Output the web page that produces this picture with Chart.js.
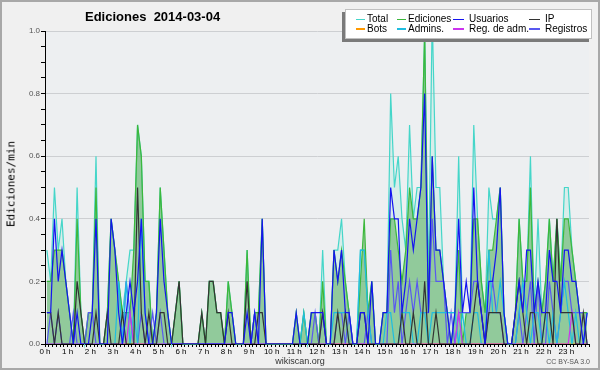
<!DOCTYPE html>
<html>
<head>
<meta charset="utf-8">
<script src="https://cdn.jsdelivr.net/npm/chart.js@4.4.1/dist/chart.umd.min.js"></script>
<style>
  html, body { margin: 0; padding: 0; background: #f0f0f0; }
  #wrap { position: relative; width: 600px; height: 370px; overflow: hidden;
          font-family: "Liberation Sans", Arial, sans-serif; }
  #chart { position: absolute; left: 0; top: 0; }
  #frame { position: absolute; left: 0; top: 0; width: 596px; height: 366px;
           border: 2px solid #a8a8a8; pointer-events: none; }
  #title { position: absolute; left: 85px; top: 9px; font-weight: bold; font-size: 13px;
           line-height: 16px; color: #000; white-space: pre; }
  #ytitle { position: absolute; left: 11px; top: 184px; transform: translate(-50%, -50%) rotate(-90deg);
            font-family: "DejaVu Sans Mono", monospace; font-size: 11px; color: #000; white-space: nowrap; }
  #legend { position: absolute; left: 345px; top: 9px; width: 245px; height: 28px;
            background: #fff; border: 1px solid #c0c0c0; box-shadow: -3px 3px 0 #7a7a7a; }
  .lg-line { position: absolute; height: 1.5px; }
  .lg-text { position: absolute; font-size: 10px; line-height: 10px; color: #000; white-space: nowrap; }
  #footer { position: absolute; left: 0; width: 600px; top: 356px; text-align: center;
            font-size: 9px; line-height: 10px; color: #333; }
  #licence { position: absolute; right: 10px; top: 358px; font-size: 7px; line-height: 8px; color: #555; }
</style>
</head>
<body>
<div id="wrap">
  <canvas id="chart" width="600" height="370"></canvas>
  <div id="title">Ediciones  2014-03-04</div>
  <div id="ytitle">Ediciones/min</div>
  <div id="legend"></div>
  <div id="footer">wikiscan.org</div>
  <div id="licence">CC BY-SA 3.0</div>
  <div id="frame"></div>
</div>
<script>
// edits per minute, one value per 10-minute slot (6 per hour, 0 h .. 23 h)
const total = [
  0.3, 0.2, 0.5, 0.3, 0.4, 0.2,
  0.1, 0,   0.5, 0.1, 0,   0.1,
  0.1, 0.6, 0,   0,   0.1, 0.4,
  0.3, 0.2, 0.1, 0.2, 0.3, 0.3,
  0.7, 0.6, 0.2, 0.2, 0,   0.1,
  0.5, 0.3, 0.1, 0,   0.1, 0.2,
  0,   0,   0,   0,   0,   0.1,
  0,   0.2, 0.2, 0.1, 0.1, 0,
  0.2, 0.1, 0,   0,   0,   0.3,
  0,   0.1, 0.1, 0.4, 0,   0,
  0,   0,   0,   0,   0,   0,
  0.1, 0,   0.1, 0,   0.1, 0.1,
  0,   0.3, 0,   0,   0.3, 0.3,
  0.4, 0.2, 0.1, 0,   0,   0.3,
  0.3, 0.1, 0.2, 0,   0,   0.1,
  0.1, 0.8, 0.5, 0.6, 0.4, 0.3,
  0.7, 0.4, 0.5, 0.5, 1.0, 0.2,
  1.05, 0.5, 0.5, 0.2, 0.1, 0.1,
  0.1, 0.6, 0.1, 0.1, 0.1, 0.7,
  0.4, 0.2, 0.1, 0.5, 0.4, 0.4,
  0.5, 0.1, 0,   0,   0.1, 0.4,
  0.2, 0.2, 0.6, 0.1, 0.4, 0.1,
  0.2, 0.4, 0.2, 0.4, 0.2, 0.5,
  0.5, 0.3, 0.2, 0.1, 0.1, 0.1
];
const ediciones = [
  0.2, 0.2, 0.3, 0.3, 0.3, 0.2,
  0.1, 0,   0.4, 0.1, 0,   0.1,
  0.1, 0.5, 0,   0,   0.1, 0.4,
  0.3, 0.2, 0.1, 0.1, 0.1, 0.3,
  0.7, 0.6, 0.2, 0.2, 0,   0.1,
  0.5, 0.3, 0.1, 0,   0.1, 0.2,
  0,   0,   0,   0,   0,   0.1,
  0,   0.2, 0.2, 0.1, 0.1, 0,
  0.2, 0.1, 0,   0,   0,   0.3,
  0,   0.1, 0.1, 0.4, 0,   0,
  0,   0,   0,   0,   0,   0,
  0.1, 0,   0.1, 0,   0.1, 0.1,
  0,   0.2, 0,   0,   0.3, 0.2,
  0.3, 0.2, 0.1, 0,   0,   0.2,
  0.4, 0.1, 0.2, 0,   0,   0.1,
  0.1, 0.4, 0.4, 0.3, 0.2, 0.3,
  0.5, 0.4, 0.4, 0.5, 1.0, 0.1,
  0.6, 0.3, 0.3, 0.2, 0.1, 0,
  0.1, 0.3, 0,   0.1, 0.1, 0.4,
  0.4, 0.2, 0.1, 0.3, 0.3, 0.4,
  0.5, 0.1, 0,   0,   0.1, 0.4,
  0.2, 0.2, 0.5, 0.1, 0.2, 0.1,
  0.2, 0.4, 0.2, 0.4, 0.2, 0.4,
  0.4, 0.3, 0.2, 0.1, 0.1, 0.1
];
const usuarios = [
  0.1, 0.1, 0.4, 0.2, 0.3, 0.2,
  0.1, 0,   0.1, 0,   0,   0,
  0.1, 0.4, 0,   0,   0,   0.4,
  0.3, 0.1, 0,   0.1, 0.2, 0.1,
  0.2, 0.4, 0.1, 0,   0,   0.1,
  0.4, 0.2, 0.1, 0,   0,   0,
  0,   0,   0,   0,   0,   0,
  0,   0,   0,   0,   0,   0,
  0.1, 0.1, 0,   0,   0,   0.1,
  0,   0.1, 0,   0.4, 0,   0,
  0,   0,   0,   0,   0,   0,
  0.1, 0,   0,   0,   0.1, 0.1,
  0.1, 0.1, 0,   0,   0.3, 0.2,
  0.3, 0.1, 0.1, 0,   0,   0.1,
  0.1, 0,   0.2, 0,   0,   0.1,
  0.1, 0.5, 0.4, 0.4, 0.1, 0.2,
  0.4, 0.3, 0.4, 0.5, 0.8, 0.1,
  0.6, 0.3, 0.3, 0.2, 0.1, 0,
  0.1, 0.4, 0.1, 0.2, 0.1, 0.5,
  0.2, 0.1, 0,   0.2, 0.2, 0.3,
  0.5, 0.1, 0,   0,   0.1, 0.2,
  0.1, 0.3, 0.3, 0.1, 0.2, 0.1,
  0.1, 0.3, 0.2, 0.2, 0.1, 0.3,
  0.3, 0.2, 0.2, 0.1, 0,   0.1
];
const ip = [
  0.1, 0.1, 0,   0.1, 0,   0,
  0,   0,   0.2, 0.1, 0,   0,
  0,   0.1, 0,   0,   0.1, 0,
  0,   0,   0.1, 0,   0,   0,
  0.5, 0.1, 0,   0.1, 0,   0,
  0.1, 0.1, 0,   0,   0.1, 0.2,
  0,   0,   0,   0,   0,   0.1,
  0,   0.2, 0.2, 0.1, 0.1, 0,
  0.1, 0,   0,   0,   0,   0.2,
  0,   0,   0.1, 0.1, 0,   0,
  0,   0,   0,   0,   0,   0,
  0,   0,   0,   0,   0,   0,
  0,   0.1, 0,   0,   0,   0.1,
  0,   0.1, 0,   0,   0,   0.1,
  0.1, 0,   0,   0,   0,   0,
  0,   0,   0,   0,   0.1, 0,
  0,   0.1, 0,   0,   0.2, 0,
  0,   0.1, 0,   0,   0,   0,
  0,   0,   0,   0,   0,   0.1,
  0.2, 0.1, 0,   0.1, 0.1, 0.1,
  0.1, 0,   0,   0,   0.1, 0.2,
  0.1, 0,   0.1, 0.1, 0,   0,
  0.1, 0.1, 0,   0.4, 0.1, 0.1,
  0.1, 0.1, 0,   0,   0.1, 0
];
const bots = [
  0, 0, 0, 0, 0, 0,
  0, 0, 0, 0, 0, 0,
  0, 0, 0, 0, 0, 0,
  0, 0, 0, 0, 0, 0,
  0, 0, 0, 0, 0, 0,
  0, 0, 0, 0, 0, 0,
  0, 0, 0, 0, 0, 0,
  0, 0, 0, 0, 0, 0,
  0, 0, 0, 0, 0, 0,
  0, 0, 0, 0, 0, 0,
  0, 0, 0, 0, 0, 0,
  0, 0, 0, 0, 0, 0,
  0, 0, 0, 0, 0, 0,
  0, 0, 0, 0, 0, 0,
  0, 0, 0, 0, 0, 0,
  0, 0, 0, 0, 0, 0,
  0, 0, 0, 0, 0, 0,
  0, 0, 0, 0, 0, 0,
  0, 0, 0, 0, 0, 0,
  0, 0, 0, 0, 0, 0,
  0, 0, 0, 0, 0, 0,
  0, 0, 0, 0, 0, 0,
  0, 0, 0, 0, 0, 0,
  0, 0, 0, 0, 0, 0
];
const admins = [
  0,   0,   0,   0,   0,   0,
  0,   0,   0,   0,   0,   0,
  0,   0,   0,   0,   0,   0,
  0,   0.2, 0,   0.2, 0,   0.1,
  0,   0.4, 0.1, 0,   0,   0,
  0,   0,   0,   0,   0,   0,
  0,   0,   0,   0,   0,   0,
  0,   0,   0,   0,   0,   0,
  0,   0,   0,   0,   0,   0,
  0,   0,   0,   0,   0,   0,
  0,   0,   0,   0,   0,   0,
  0,   0,   0.1, 0,   0,   0,
  0,   0,   0,   0,   0.1, 0.1,
  0.1, 0.1, 0,   0,   0,   0.3,
  0.3, 0.1, 0,   0,   0,   0,
  0.1, 0.1, 0,   0,   0.1, 0.1,
  0.1, 0,   0,   0.1, 0.1, 0,
  0.1, 0.1, 0.1, 0.1, 0.1, 0.1,
  0.1, 0,   0.1, 0,   0,   0.1,
  0.1, 0,   0,   0.3, 0.1, 0.1,
  0.2, 0.1, 0,   0,   0,   0.1,
  0.2, 0.1, 0,   0.1, 0.1, 0,
  0.1, 0,   0.1, 0,   0.1, 0.2,
  0.1, 0,   0.1, 0,   0,   0.1
];
const regAdm = [
  0, 0, 0, 0, 0, 0,
  0, 0, 0, 0, 0, 0,
  0, 0, 0, 0, 0, 0,
  0, 0, 0, 0, 0.1, 0,
  0, 0, 0, 0, 0, 0,
  0, 0, 0, 0, 0, 0,
  0, 0, 0, 0, 0, 0,
  0, 0, 0, 0, 0, 0,
  0, 0, 0, 0, 0, 0,
  0, 0, 0, 0, 0, 0,
  0, 0, 0, 0, 0, 0,
  0, 0, 0, 0, 0, 0,
  0, 0, 0, 0, 0, 0,
  0, 0, 0, 0, 0, 0,
  0, 0, 0, 0, 0, 0,
  0, 0, 0, 0, 0, 0,
  0, 0, 0, 0, 0, 0,
  0, 0, 0, 0, 0, 0,
  0, 0.1, 0, 0, 0, 0,
  0, 0, 0, 0, 0, 0,
  0, 0, 0, 0, 0, 0,
  0, 0, 0, 0, 0, 0,
  0, 0, 0, 0, 0, 0,
  0, 0.1, 0, 0, 0, 0
];
const registros = [
  0,   0.1, 0,   0.1, 0,   0,
  0,   0.1, 0,   0,   0,   0.1,
  0.1, 0,   0,   0,   0,   0,
  0,   0,   0,   0.2, 0.1, 0,
  0,   0.1, 0,   0,   0.1, 0,
  0.1, 0,   0,   0,   0,   0,
  0,   0,   0,   0,   0,   0,
  0,   0,   0,   0,   0,   0,
  0,   0,   0,   0,   0,   0,
  0,   0.1, 0,   0,   0,   0,
  0,   0,   0,   0,   0,   0,
  0,   0,   0,   0,   0,   0.1,
  0,   0.1, 0,   0,   0,   0.1,
  0.1, 0,   0.1, 0,   0,   0,
  0,   0.1, 0,   0,   0,   0,
  0,   0.3, 0.1, 0.2, 0,   0.1,
  0.2, 0.1, 0.2, 0.1, 0.1, 0.1,
  0.4, 0.2, 0.2, 0.2, 0,   0.1,
  0,   0.1, 0.1, 0.1, 0.1, 0.2,
  0.2, 0.1, 0,   0.1, 0.2, 0.1,
  0.1, 0,   0,   0,   0,   0.1,
  0,   0.1, 0.2, 0,   0.2, 0,
  0,   0.2, 0.1, 0,   0.1, 0.2,
  0.2, 0.1, 0.1, 0.1, 0.1, 0
];

const slotMinutes = 10;
const dayMinutes = 1440;

// slot i is plotted at the middle of its 10 minutes
function points(values) {
  return values.map((v, i) => ({ x: i * slotMinutes + slotMinutes / 2, y: v }));
}

function line(label, values, color, order, extra) {
  return Object.assign({
    label: label,
    data: points(values),
    borderColor: color,
    backgroundColor: color,
    borderWidth: 1.2,
    pointRadius: 0,
    tension: 0,
    fill: false,
    order: order
  }, extra || {});
}

// legend order: row 1 then row 2
const datasets = [
  line("Total", total, "#45d6c9", 9, { fill: "origin", backgroundColor: "rgba(120,225,205,0.18)", clip: false }),
  line("Ediciones", ediciones, "#3cb83c", 8, { fill: "origin", backgroundColor: "rgba(60,160,60,0.45)" }),
  line("Usuarios", usuarios, "#1414f0", 2),
  line("IP", ip, "#333333", 3),
  line("Bots", bots, "#ff9900", 7),
  line("Admins.", admins, "#1fbde0", 5),
  line("Reg. de adm.", regAdm, "#cc33ee", 4),
  line("Registros", registros, "#5858f0", 6)
];

const chartAreaBg = {
  id: "chartAreaBg",
  beforeDraw(chart) {
    const { ctx, chartArea } = chart;
    ctx.save();
    ctx.fillStyle = "#edeff1";
    ctx.fillRect(chartArea.left, chartArea.top, chartArea.right - chartArea.left, chartArea.bottom - chartArea.top);
    ctx.restore();
  }
};

const isMajorY = v => Math.abs(v * 5 - Math.round(v * 5)) < 1e-6;

const chart = new Chart(document.getElementById("chart"), {
  type: "line",
  data: { datasets: datasets },
  options: {
    responsive: false,
    animation: false,
    layout: { padding: { top: 31, right: 11, left: 0, bottom: 0 } },
    plugins: {
      legend: { display: false },
      tooltip: { enabled: false },
      title: { display: false }
    },
    scales: {
      x: {
        type: "linear",
        min: 0,
        max: dayMinutes,
        z: 1,
        border: { color: "#000", width: 1 },
        grid: { drawOnChartArea: false, drawTicks: true, tickLength: 3, tickColor: "#000" },
        ticks: {
          stepSize: slotMinutes,
          autoSkip: false,
          maxRotation: 0,
          minRotation: 0,
          padding: 0,
          color: "#000",
          font: { family: "Liberation Sans", size: 8 },
          callback: v => (v % 60 === 0 && v < dayMinutes) ? (v / 60) + " h" : ""
        },
        afterFit: s => { s.height = 26; }
      },
      y: {
        min: 0,
        max: 1,
        border: { color: "#000", width: 1 },
        grid: {
          color: c => (c.tick && c.tick.value > 0 && isMajorY(c.tick.value)) ? "#cdcfd2" : "rgba(0,0,0,0)",
          tickColor: "#000",
          tickLength: 4
        },
        ticks: {
          stepSize: 0.05,
          autoSkip: false,
          padding: 1,
          color: "#555",
          font: { family: "Liberation Sans", size: 8 },
          callback: v => isMajorY(v) ? v.toFixed(1) : ""
        },
        afterFit: s => { s.width = 45; }
      }
    }
  },
  plugins: [chartAreaBg]
});

// legend box, 4 columns x 2 rows, built from the datasets
const legendCols = [
  { line: 356, width: 9, text: 367 },
  { line: 397, width: 9, text: 408 },
  { line: 453, width: 11, text: 469 },
  { line: 529, width: 11, text: 545 }
];
const legendRows = [19, 28.5];
const legend = document.getElementById("legend");
const box = { left: 346, top: 10 };
chart.data.datasets.forEach((ds, i) => {
  const col = legendCols[i % 4];
  const y = legendRows[Math.floor(i / 4)];
  const l = document.createElement("div");
  l.className = "lg-line";
  l.style.left = (col.line - box.left) + "px";
  l.style.top = (y - box.top - 0.5) + "px";
  l.style.width = col.width + "px";
  l.style.background = ds.borderColor;
  legend.appendChild(l);
  const t = document.createElement("div");
  t.className = "lg-text";
  t.textContent = ds.label;
  t.style.left = (col.text - box.left) + "px";
  t.style.top = (y - box.top - 5) + "px";
  legend.appendChild(t);
});
</script>
</body>
</html>
